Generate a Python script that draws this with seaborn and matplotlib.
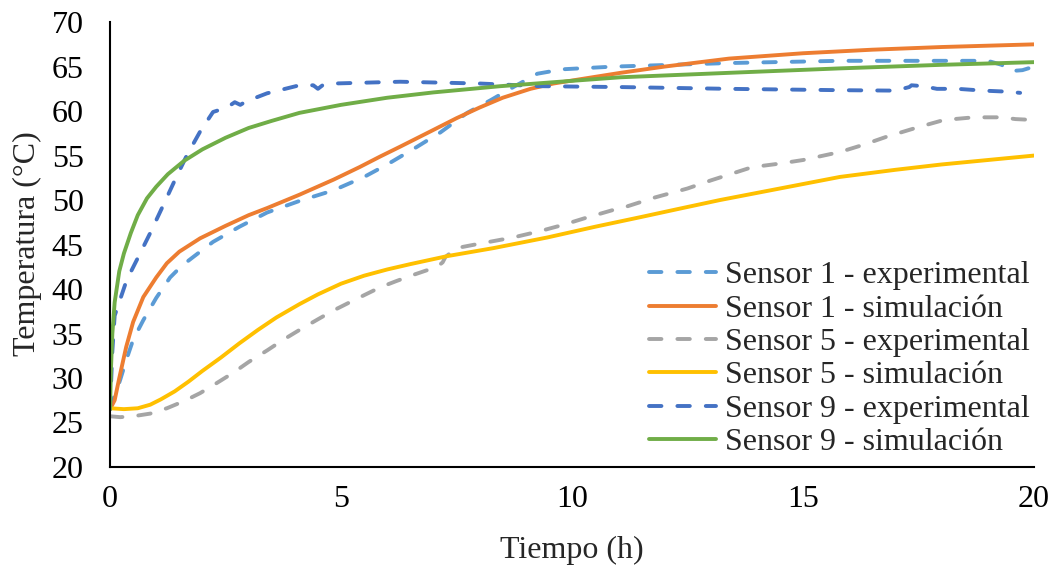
import numpy as np
import pandas as pd
import matplotlib
matplotlib.use("Agg")
import matplotlib.pyplot as plt
import seaborn as sns

# lecturas aproximadas de la figura (tiempo en h, temperatura en °C)
t1_exp = [0, 0.07, 0.22, 0.35, 0.5, 0.72, 1.0, 1.3, 1.55, 1.8, 2.23, 2.8, 3.4, 4.1, 4.84, 5.5, 6.0,
          6.65, 7.15, 7.73, 8.23, 8.73, 9.25, 9.8, 10.9, 13.4, 15.8, 19.0, 19.3, 19.5, 19.75, 20]
y1_exp = [26.5, 27.5, 29.8, 32.0, 34.3, 36.5, 39.0, 41.3, 42.6, 43.6, 45.3, 47.0, 48.6, 49.9, 51.1, 52.6, 54.0,
          56.0, 57.6, 59.8, 61.2, 62.7, 64.2, 64.7, 65.0, 65.4, 65.65, 65.65, 65.2, 64.5, 64.6, 65.0]

t1_sim = [0, 0.1, 0.2, 0.35, 0.5, 0.72, 1.0, 1.23, 1.5, 1.95, 2.5, 3.0, 3.4, 4.1, 4.84, 5.4, 5.85,
          6.28, 6.93, 7.5, 8.0, 8.5, 9.1, 9.6, 10.2, 11.05, 12.0, 13.4, 15.0, 16.5, 18.0, 20]
y1_sim = [26.5, 27.5, 30.0, 33.5, 36.3, 39.1, 41.3, 42.9, 44.2, 45.7, 47.1, 48.3, 49.1, 50.6, 52.3, 53.7, 54.9,
          56.0, 57.7, 59.2, 60.4, 61.5, 62.5, 63.1, 63.6, 64.3, 65.0, 65.9, 66.5, 66.9, 67.2, 67.5]

t5_exp = [0, 0.22, 0.5, 0.87, 1.23, 1.6, 1.95, 2.3, 2.67, 3.0, 3.4, 3.75, 4.1, 4.5, 4.84, 5.3, 5.85,
          6.2, 6.57, 7.08, 7.2, 7.26, 7.5, 8.0, 8.73, 9.3, 9.8, 10.3, 10.9, 11.2, 11.8, 12.5, 13.0,
          13.9, 14.5, 15.0, 15.8, 16.3, 16.8, 17.5, 18.05, 18.7, 19.3, 19.6, 20]
y5_exp = [25.7, 25.6, 25.7, 26.0, 26.6, 27.4, 28.3, 29.4, 30.6, 31.8, 33.1, 34.3, 35.4, 36.6, 37.6, 38.8, 40.2,
          40.9, 41.6, 42.5, 43.0, 43.6, 44.6, 45.1, 45.8, 46.5, 47.2, 48.0, 48.9, 49.3, 50.3, 51.3, 52.2,
          53.7, 54.1, 54.5, 55.4, 56.2, 57.1, 58.2, 59.0, 59.3, 59.3, 59.1, 59.0]

t5_sim = [0, 0.3, 0.6, 0.87, 1.1, 1.4, 1.7, 2.0, 2.4, 2.8, 3.2, 3.6, 4.1, 4.5, 5.0, 5.5, 6.0,
          6.5, 7.3, 8.3, 9.47, 10.5, 11.5, 12.3, 13.2, 14.5, 15.8, 17.0, 18.0, 19.0, 20]
y5_sim = [26.6, 26.5, 26.6, 27.0, 27.6, 28.5, 29.6, 30.8, 32.3, 33.9, 35.4, 36.8, 38.3, 39.4, 40.6, 41.5, 42.2,
          42.8, 43.7, 44.6, 45.8, 47.0, 48.1, 49.0, 50.0, 51.3, 52.6, 53.4, 54.0, 54.5, 55.0]

t9_exp = [0, 0.05, 0.1, 0.36, 0.65, 0.87, 1.15, 1.4, 1.66, 1.95, 2.23, 2.53, 2.7, 2.82, 2.95, 3.4,
          4.1, 4.4, 4.5, 4.6, 4.84, 6.28, 8.0, 9.3, 11.05, 13.4, 15.8, 17.0, 17.3, 17.35, 17.6, 17.9,
          18.35, 18.9, 19.35, 19.7]
y9_exp = [26.5, 33.0, 37.0, 41.0, 44.0, 46.3, 49.4, 52.2, 55.0, 57.7, 59.9, 60.4, 61.0, 60.7, 61.1, 62.0,
          62.9, 62.9, 62.5, 62.9, 63.1, 63.3, 63.1, 62.8, 62.7, 62.5, 62.35, 62.3, 62.7, 62.9, 62.8, 62.5,
          62.5, 62.3, 62.2, 62.05]

t9_sim = [0, 0.02, 0.05, 0.1, 0.2, 0.3, 0.45, 0.6, 0.8, 1.0, 1.25, 1.6, 2.0, 2.5, 3.0, 3.5, 4.1,
          5.0, 6.0, 7.0, 8.45, 10.0, 11.05, 13.4, 15.8, 18.0, 20]
y9_sim = [26.5, 31.0, 35.0, 38.5, 42.0, 44.0, 46.3, 48.3, 50.2, 51.5, 52.9, 54.4, 55.7, 57.0, 58.1, 58.9, 59.8,
          60.7, 61.5, 62.1, 62.8, 63.4, 63.8, 64.3, 64.8, 65.2, 65.5]

series = ["Sensor 1 - experimental", "Sensor 1 - simulación",
          "Sensor 5 - experimental", "Sensor 5 - simulación",
          "Sensor 9 - experimental", "Sensor 9 - simulación"]
datos = [(t1_exp, y1_exp), (t1_sim, y1_sim), (t5_exp, y5_exp),
         (t5_sim, y5_sim), (t9_exp, y9_exp), (t9_sim, y9_sim)]
colores = ["#5B9BD5", "#ED7D31", "#A5A5A5", "#FFC000", "#4472C4", "#70AD47"]

df = pd.concat([pd.DataFrame({"t": t, "T": y, "serie": s}) for s, (t, y) in zip(series, datos)],
               ignore_index=True)

sns.set_style("white")
plt.rcParams["font.family"] = ["Liberation Serif", "DejaVu Serif"]
fs = 23
lw = 2.8

fig = plt.figure(figsize=(10.54, 5.67), dpi=100)
ax = fig.add_axes([0.1044, 0.1764, 0.8766, 0.7846])

trazos = {s: ((3.2, 4.1) if "experimental" in s else "") for s in series}
sns.lineplot(data=df, x="t", y="T", hue="serie", style="serie", hue_order=series, style_order=series,
             palette=dict(zip(series, colores)), dashes=trazos, estimator=None, sort=False,
             linewidth=lw, ax=ax)
for ln in ax.lines:
    ln.set_dash_capstyle("round")
    ln.set_solid_joinstyle("round")

ax.set_xlim(0, 20)
ax.set_ylim(20, 70)
ax.set_xticks([0, 5, 10, 15, 20])
ax.set_yticks(range(20, 71, 5))
ax.tick_params(axis="both", length=0, labelsize=fs, colors="black")
ax.tick_params(axis="y", pad=19)
ax.tick_params(axis="x", pad=13)
for lado in ["top", "right"]:
    ax.spines[lado].set_visible(False)
for lado in ["left", "bottom"]:
    ax.spines[lado].set_color("black")
    ax.spines[lado].set_linewidth(1.5)

ax.set_xlabel("Tiempo (h)", fontsize=fs)
ax.set_ylabel("Temperatura (°C)", fontsize=fs)
ax.xaxis.set_label_coords(0.5, -0.155)
ax.yaxis.set_label_coords(-0.074, 0.503)

sns.move_legend(ax, "lower left", bbox_to_anchor=(0.583, 0.022), title=None, frameon=False,
                fontsize=fs, handlelength=2.1, handletextpad=0.28, labelspacing=0.125,
                borderpad=0, borderaxespad=0)
for ln in ax.get_legend().get_lines():
    ln.set_dash_capstyle("round")
    ln.set_linewidth(lw)

fig.savefig("out.png", dpi=100)
